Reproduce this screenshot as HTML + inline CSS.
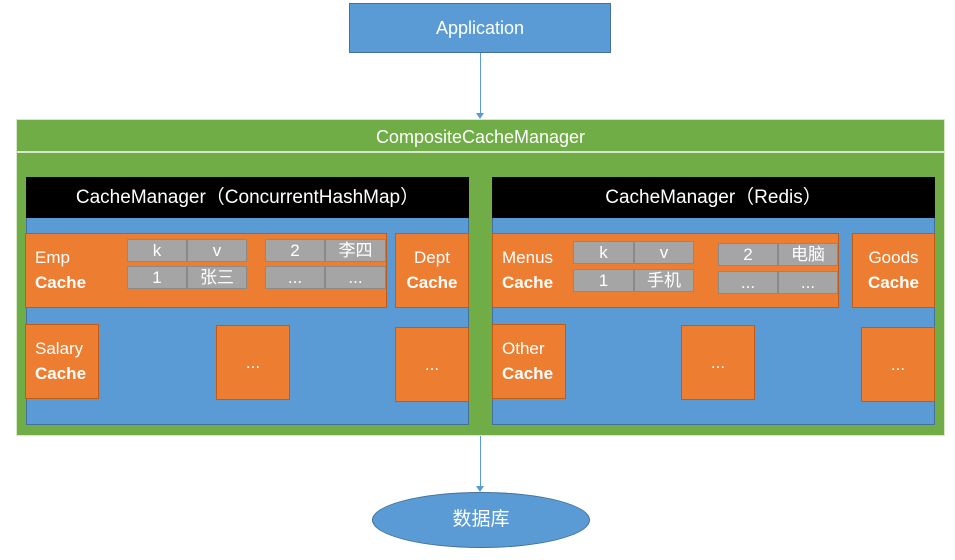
<!DOCTYPE html>
<html><head><meta charset="utf-8"><style>
body{margin:0;width:955px;height:560px;background:#fff;position:relative;overflow:hidden;font-family:"Liberation Sans","Noto Sans CJK SC",sans-serif;}
div{position:absolute;box-sizing:border-box;}
.o{background:#ed7d31;border:1px solid #c55a11;color:#fff;font-size:17px;line-height:25px;padding-left:9px;}
.o b{display:block}
.c{background:#a5a5a5;border:1px solid #8a8a8a;color:#fff;font-size:17px;text-align:center;line-height:21px;}
.d{display:flex;align-items:center;justify-content:center;padding:0;}
.blk{background:#000;color:#fff;font-size:19px;text-align:center;line-height:41px;}
.blue{background:#5b9bd5;border:1px solid #41719c;}
</style></head><body>
<div style="left:349px;top:3px;width:262px;height:50px;background:#5b9bd5;border:1px solid #41719c;color:#fff;font-size:18px;text-align:center;line-height:48px;">Application</div>
<div style="left:480px;top:53px;width:1px;height:62px;background:#5b9bd5"></div>
<div style="left:476px;top:113px;width:0;height:0;border-left:4px solid transparent;border-right:4px solid transparent;border-top:6px solid #5b9bd5"></div>
<div style="left:16px;top:119px;width:929px;height:317px;background:#70ad47;border:1px solid #d5e8c8"></div>
<div style="left:16px;top:151px;width:929px;height:2px;background:#d5e8c8"></div>
<div style="left:16px;top:123px;width:929px;text-align:center;color:#fff;font-size:18px;line-height:28px;">CompositeCacheManager</div>

<div class="blue" style="left:26px;top:177px;width:443px;height:248px"></div>
<div class="blk" style="left:26px;top:177px;width:443px;height:41px">CacheManager（ConcurrentHashMap）</div>
<div class="o" style="left:25px;top:233px;width:362px;height:75px;padding-top:11px">Emp<b>Cache</b></div>
<div class="c" style="left:127px;top:239px;width:60px;height:23px">k</div>
<div class="c" style="left:187px;top:239px;width:60px;height:23px">v</div>
<div class="c" style="left:127px;top:266px;width:60px;height:23px">1</div>
<div class="c" style="left:187px;top:266px;width:60px;height:23px">张三</div>
<div class="c" style="left:265px;top:239px;width:60px;height:23px">2</div>
<div class="c" style="left:325px;top:239px;width:61px;height:23px">李四</div>
<div class="c" style="left:265px;top:266px;width:60px;height:23px">...</div>
<div class="c" style="left:325px;top:266px;width:61px;height:23px">...</div>
<div class="o" style="left:395px;top:233px;width:74px;height:75px;padding:11px 0 0 0;text-align:center">Dept<b>Cache</b></div>
<div class="o" style="left:25px;top:324px;width:74px;height:75px;padding-top:11px">Salary<b>Cache</b></div>
<div class="o d" style="left:216px;top:325px;width:74px;height:75px">...</div>
<div class="o d" style="left:395px;top:327px;width:74px;height:75px">...</div>

<div class="blue" style="left:492px;top:177px;width:443px;height:248px"></div>
<div class="blk" style="left:492px;top:177px;width:443px;height:41px">CacheManager（Redis）</div>
<div class="o" style="left:492px;top:233px;width:347px;height:75px;padding-top:11px">Menus<b>Cache</b></div>
<div class="c" style="left:573px;top:241px;width:61px;height:23px">k</div>
<div class="c" style="left:634px;top:241px;width:60px;height:23px">v</div>
<div class="c" style="left:573px;top:269px;width:61px;height:23px">1</div>
<div class="c" style="left:634px;top:269px;width:60px;height:23px">手机</div>
<div class="c" style="left:718px;top:243px;width:60px;height:23px">2</div>
<div class="c" style="left:778px;top:243px;width:60px;height:23px">电脑</div>
<div class="c" style="left:718px;top:271px;width:60px;height:23px">...</div>
<div class="c" style="left:778px;top:271px;width:60px;height:23px">...</div>
<div class="o" style="left:852px;top:233px;width:83px;height:75px;padding:11px 0 0 0;text-align:center">Goods<b>Cache</b></div>
<div class="o" style="left:492px;top:324px;width:74px;height:75px;padding-top:11px">Other<b>Cache</b></div>
<div class="o d" style="left:681px;top:325px;width:74px;height:75px">...</div>
<div class="o d" style="left:861px;top:327px;width:74px;height:75px">...</div>

<div style="left:480px;top:436px;width:1px;height:52px;background:#5b9bd5"></div>
<div style="left:476px;top:486px;width:0;height:0;border-left:4px solid transparent;border-right:4px solid transparent;border-top:6px solid #5b9bd5"></div>
<div style="left:372px;top:492px;width:218px;height:56px;border-radius:50%;background:#5b9bd5;border:1px solid #41719c;color:#fff;font-size:19px;text-align:center;line-height:54px;">数据库</div>
</body></html>
